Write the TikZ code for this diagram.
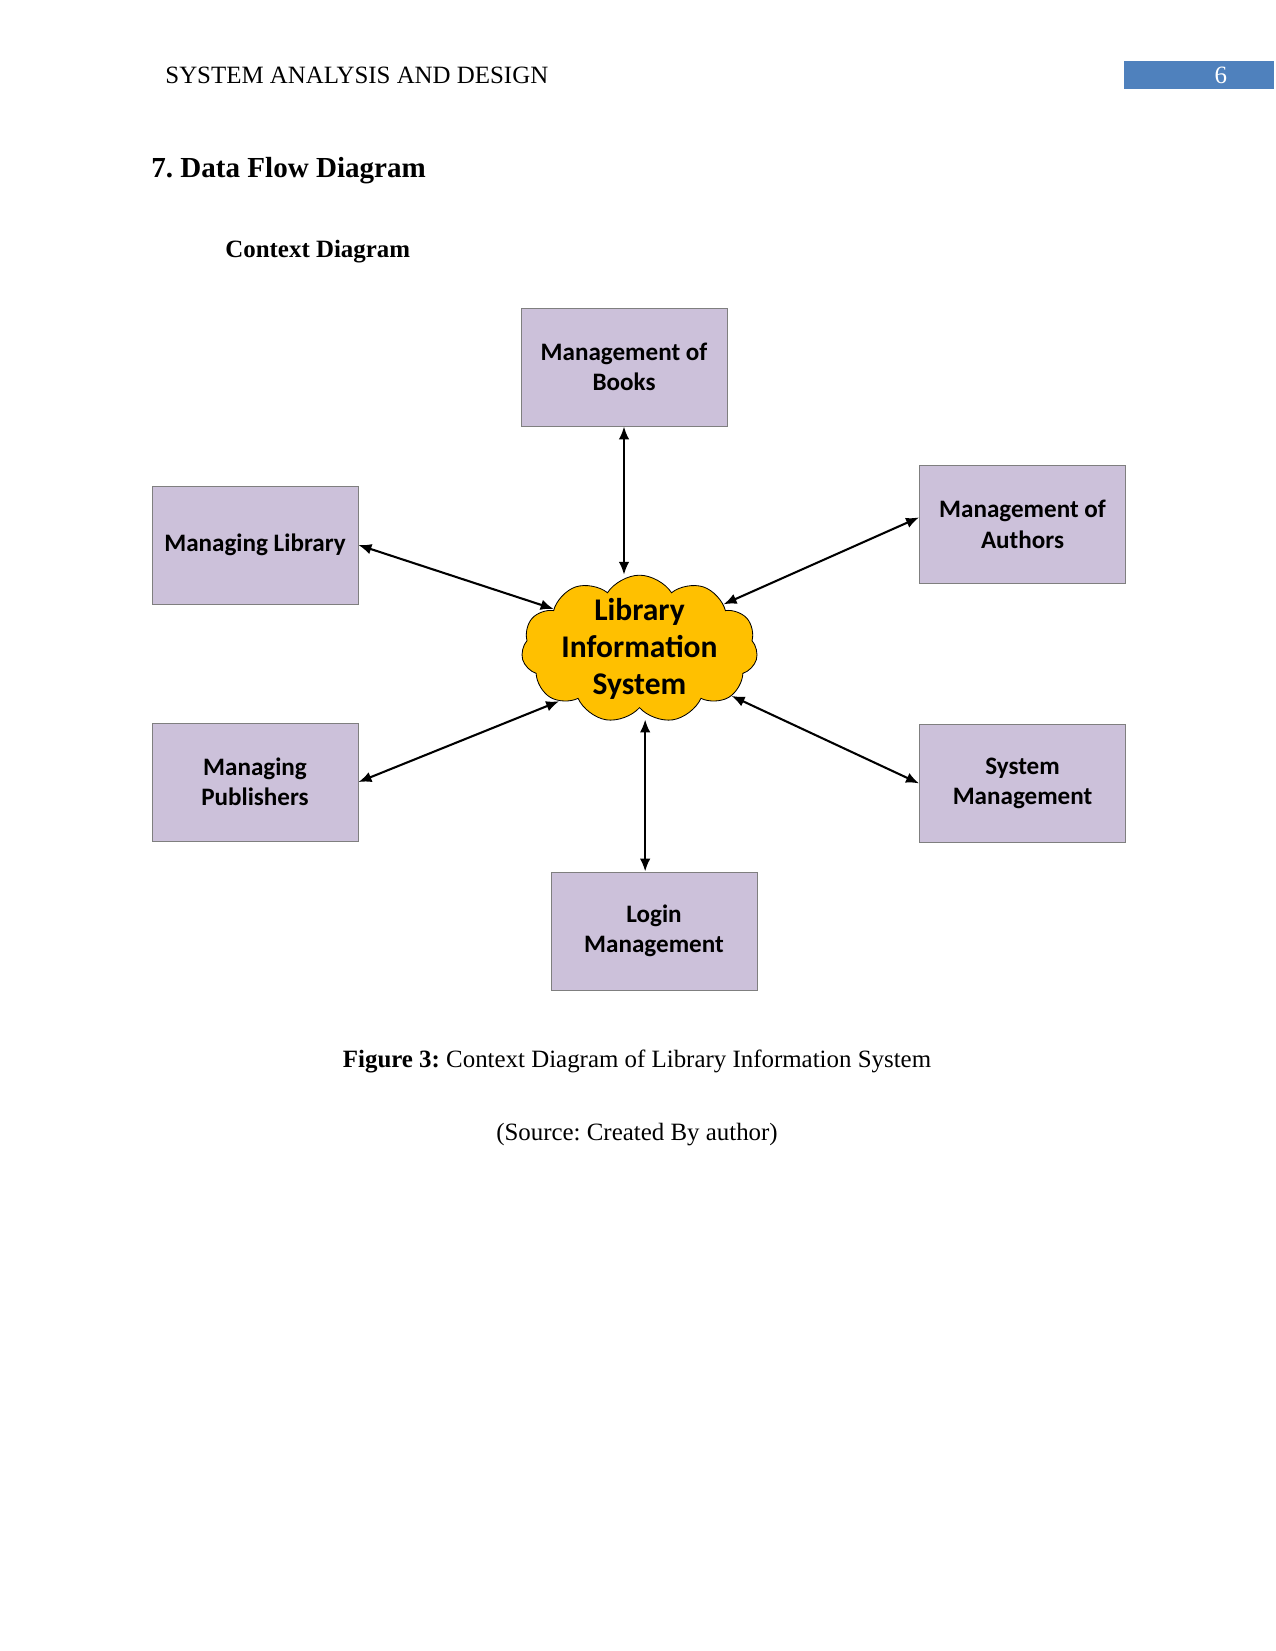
\documentclass[tikz,border=0pt]{standalone}
\usepackage{fontspec}
\setmainfont{Liberation Serif}
\newfontfamily\boxfont{Carlito}
\usetikzlibrary{shapes.symbols,arrows.meta,positioning}
\definecolor{lavender}{HTML}{CCC1DA}
\definecolor{edge}{HTML}{7F7F7F}
\definecolor{amber}{HTML}{FFC000}
\definecolor{headblue}{HTML}{4F81BD}
\frenchspacing

\begin{document}
\begin{tikzpicture}[
    x=0.4818pt, y=-0.4818pt,
    node distance=4mm,
    page/.style={inner sep=0pt,font=\fontsize{12}{14}\selectfont},
    box/.style={draw=edge,fill=lavender,minimum width=3.49cm,minimum height=2cm,align=center,inner sep=1pt,font=\boxfont\bfseries\fontsize{12.1}{14.6}\selectfont},
    hub/.style={cloud,cloud puffs=11,cloud puff arc=115,cloud ignores aspect,draw=black,fill=amber,minimum width=40mm,minimum height=25mm,inner sep=0pt},
    hubtext/.style={align=center,inner sep=0pt,font=\boxfont\bfseries\fontsize{15.2}{17.8}\selectfont},
    arrow/.style={{Latex[length=2.2mm,width=1.8mm]}-{Latex[length=2.2mm,width=1.8mm]},line width=1pt}
  ]
    \useasboundingbox (0,0) rectangle (1275,1651);

    % page header and headings
    \node[page,anchor=west] (head) at (165,75) {SYSTEM ANALYSIS AND DESIGN};
    \node[fill=headblue,minimum width=25.4mm,minimum height=4.6mm,inner sep=0pt,
          label={[page,text=white,xshift=3.7mm]center:6}] (pagenum) at (1199,75) {};
    \node[page,anchor=west,font=\bfseries\fontsize{14}{17}\selectfont] (title) at (151,171) {7. Data Flow Diagram};
    \node[page,anchor=west,font=\bfseries\fontsize{12}{14}\selectfont] (sub) at (225,252) {Context Diagram};

    % context diagram
    \node[hub,label={[hubtext]center:Library\\Information\\System}] (lis) at (639.5,649) {};

    \node[box] (books) at (624,367) {Management of\\Books};
    \node[box] (library) at (255,545) {Managing Library};
    \node[box,below=20mm of library] (pub) {Managing\\Publishers};
    \node[box] (authors) at (1022.5,524.5) {Management of\\Authors};
    \node[box,below=23.7mm of authors] (sysmgmt) {System\\Management};
    \node[box] (login) at (654,931) {Login\\Management};

    \draw[arrow] (books.south) -- (books.south |- lis.north);
    \draw[arrow] (library.east) -- (lis.155);
    \draw[arrow] ([yshift=1.2mm]authors.west) -- (lis.28);
    \draw[arrow] (pub.east) -- (lis.213);
    \draw[arrow] (sysmgmt.west) -- (lis.333);
    \draw[arrow] ([xshift=-1.5mm]login.north) -- ([xshift=-1.5mm,yshift=-1.9mm]login.north |- lis.south);

    % caption
    \node[page] (caption) at (637,1061) {\textbf{Figure 3:} Context Diagram of Library Information System};
    \node[page] (source) at (637,1135) {(Source: Created By author)};
  \end{tikzpicture}
\end{document}
